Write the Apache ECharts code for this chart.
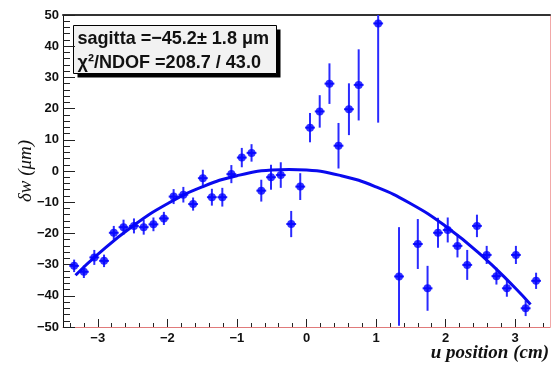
<!DOCTYPE html>
<html>
<head>
<meta charset="utf-8">
<script src="https://cdn.jsdelivr.net/npm/echarts@6/dist/echarts.min.js"></script>
<style>
  html, body { margin: 0; padding: 0; background: #fff; }
  #chart { width: 552px; height: 365px; }
</style>
</head>
<body>
<div id="chart"></div>
<script>
// measured points (u position in cm, delta w in um, error in um)
const uPos = [
  -3.34, -3.20, -3.05, -2.91, -2.77, -2.63, -2.48, -2.34, -2.20, -2.05,
  -1.91, -1.77, -1.63, -1.49, -1.36, -1.21, -1.08, -0.93, -0.79, -0.65,
  -0.51, -0.37, -0.22, -0.09, 0.05, 0.19, 0.33, 0.46, 0.61, 0.75,
  1.03, 1.33, 1.60, 1.74, 1.89, 2.03, 2.17, 2.31, 2.45, 2.59,
  2.73, 2.88, 3.01, 3.15, 3.30
];
const dw = [
  -30.4, -32.3, -27.7, -28.8, -19.8, -18.0, -17.6, -18.0, -17.1, -15.2,
  -8.2, -7.6, -10.6, -2.3, -8.4, -8.4, -1.0, 4.3, 5.8, -6.3,
  -2.0, -1.3, -17.0, -5.0, 13.9, 19.1, 28.0, 8.1, 19.8, 27.6,
  47.3, -33.8, -23.4, -37.6, -19.8, -18.9, -24.0, -30.1, -17.6, -26.9,
  -33.7, -37.6, -26.9, -44.0, -35.2
];
const dwErr = [
  2.0, 2.0, 2.4, 2.0, 2.2, 2.4, 2.4, 2.4, 2.2, 2.1,
  2.4, 2.5, 2.1, 2.7, 2.7, 3.0, 2.9, 3.1, 2.8, 3.5,
  4.0, 4.1, 4.2, 4.3, 4.7, 5.2, 6.5, 7.3, 8.3, 11.4,
  31.8, 15.8, 8.0, 7.2, 4.8, 4.0, 3.7, 4.8, 3.6, 2.9,
  2.7, 2.7, 2.9, 2.5, 2.6
];
const uHalfBin = 0.071;

// parabola fit
const fitU = [-3.32, -3.0, -2.5, -2.0, -1.5, -1.0, -0.5, -0.25, 0, 0.5, 1.0, 1.5, 2.0, 2.5, 3.0, 3.22];
const fitW = [-33.4, -26.7, -17.7, -10.5, -5.1, -1.5, 0.3, 0.5, 0.3, -1.5, -5.1, -10.5, -17.7, -26.7, -37.5, -42.8];

const xMajorTicks = [-3, -2, -1, 0, 1, 2, 3];
const xMinorTicks = [
  -3.4, -3.2, -2.8, -2.6, -2.4, -2.2, -1.8, -1.6, -1.4, -1.2,
  -0.8, -0.6, -0.4, -0.2, 0.2, 0.4, 0.6, 0.8, 1.2, 1.4,
  1.6, 1.8, 2.2, 2.4, 2.6, 2.8, 3.2, 3.4
];

const statLines = ["sagitta =\u221245.2\u00b1 1.8 \u03bcm", "\u03c7\u00b2/NDOF =208.7 / 43.0"];

const blue = "#0000ff";
const minus = (v) => String(v).replace("-", "\u2212");
const labelFont = { color: "#111", fontSize: 13, fontWeight: "bold", fontFamily: "Liberation Sans, Arial, sans-serif" };
const statFont = "bold 19px Liberation Sans, Arial, sans-serif";

const chart = echarts.init(document.getElementById("chart"), null, { renderer: "canvas" });

const xBase = { type: "value", min: -3.5, max: 3.5, gridIndex: 0 };

chart.setOption({
  backgroundColor: "#fff",
  animation: false,
  grid: { left: 63, right: 1, top: 15, bottom: 38 },
  xAxis: [
    {
      ...xBase,
      position: "bottom",
      axisLine: { show: true, onZero: false, lineStyle: { color: "#e07a7a", width: 1 } },
      axisTick: { show: true, inside: true, length: 8, customValues: xMajorTicks, lineStyle: { color: "#222" } },
      axisLabel: {
        ...labelFont,
        customValues: xMajorTicks,
        margin: 5,
        formatter: (v) => minus(v),
      },
      splitLine: { show: false },
      name: "u position (cm)",
      nameLocation: "end",
      nameGap: -1,
      nameMoveOverlap: false,
      nameTextStyle: {
        align: "right",
        verticalAlign: "top",
        padding: [17, 0, 0, 0],
        fontSize: 19,
        fontStyle: "italic",
        fontWeight: "bold",
        fontFamily: "Liberation Serif, Times New Roman, serif",
        color: "#111",
      },
    },
    {
      ...xBase,
      position: "bottom",
      axisLine: { show: false, onZero: false },
      axisTick: { show: true, inside: true, length: 4, customValues: xMinorTicks, lineStyle: { color: "#222" } },
      axisLabel: { show: false },
      splitLine: { show: false },
    },
    {
      ...xBase,
      position: "top",
      axisLine: { show: true, onZero: false, lineStyle: { color: "#333", width: 2 } },
      axisTick: { show: false },
      axisLabel: { show: false },
      splitLine: { show: false },
    },
  ],
  yAxis: [
    {
      type: "value",
      min: -50,
      max: 50,
      interval: 10,
      position: "left",
      axisLine: { show: true, onZero: false, lineStyle: { color: "#111", width: 1 } },
      axisTick: { show: true, inside: true, length: 12, lineStyle: { color: "#222" } },
      minorTick: { show: true, splitNumber: 5, length: 7, lineStyle: { color: "#222" } },
      axisLabel: { ...labelFont, margin: 4, formatter: (v) => minus(v) },
      splitLine: { show: false },
      name: "\u03b4w (\u03bcm)",
      nameLocation: "middle",
      nameRotate: 90,
      nameGap: 28,
      nameMoveOverlap: false,
      nameTextStyle: {
        fontSize: 19,
        fontStyle: "italic",
        fontFamily: "Liberation Serif, Times New Roman, serif",
        color: "#111",
      },
    },
    {
      type: "value",
      min: -50,
      max: 50,
      position: "right",
      axisLine: { show: true, onZero: false, lineStyle: { color: "#f2a8a8", width: 1 } },
      axisTick: { show: false },
      axisLabel: { show: false },
      splitLine: { show: false },
    },
  ],
  series: [
    {
      type: "custom",
      name: "errors",
      xAxisIndex: 0,
      yAxisIndex: 0,
      clip: true,
      data: uPos.map((u, i) => [u, dw[i], dwErr[i]]),
      renderItem: (params, api) => {
        const u = api.value(0);
        const w = api.value(1);
        const e = api.value(2);
        const top = api.coord([u, w + e]);
        const bot = api.coord([u, w - e]);
        const left = api.coord([u - uHalfBin, w]);
        const right = api.coord([u + uHalfBin, w]);
        const style = { stroke: "#2a2aff", lineWidth: 2 };
        return {
          type: "group",
          children: [
            { type: "line", shape: { x1: top[0], y1: top[1], x2: bot[0], y2: bot[1] }, style },
            { type: "line", shape: { x1: left[0], y1: left[1], x2: right[0], y2: right[1] }, style },
          ],
        };
      },
      z: 2,
    },
    {
      type: "line",
      name: "fit",
      data: fitU.map((u, i) => [u, fitW[i]]),
      smooth: true,
      showSymbol: false,
      lineStyle: { color: "#0a0aee", width: 3 },
      z: 3,
    },
    {
      type: "scatter",
      name: "points",
      data: uPos.map((u, i) => [u, dw[i]]),
      symbol: "circle",
      symbolSize: 8,
      itemStyle: { color: blue },
      z: 4,
    },
  ],
  graphic: [
    {
      type: "group",
      left: 73,
      top: 25,
      children: [
        { type: "rect", shape: { x: 4, y: 4, width: 203, height: 48 }, style: { fill: "#000" } },
        { type: "rect", shape: { x: 0, y: 0, width: 203, height: 48 }, style: { fill: "#f2f2f2", stroke: "#000", lineWidth: 1 } },
        {
          type: "text",
          x: 4,
          y: 13,
          scaleX: 0.95,
          style: { text: statLines[0], font: statFont, fill: "#111", verticalAlign: "middle" },
        },
        {
          type: "text",
          x: 4,
          y: 37,
          scaleX: 0.95,
          style: { text: statLines[1], font: statFont, fill: "#111", verticalAlign: "middle" },
        },
      ],
    },
  ],
});
</script>
</body>
</html>
